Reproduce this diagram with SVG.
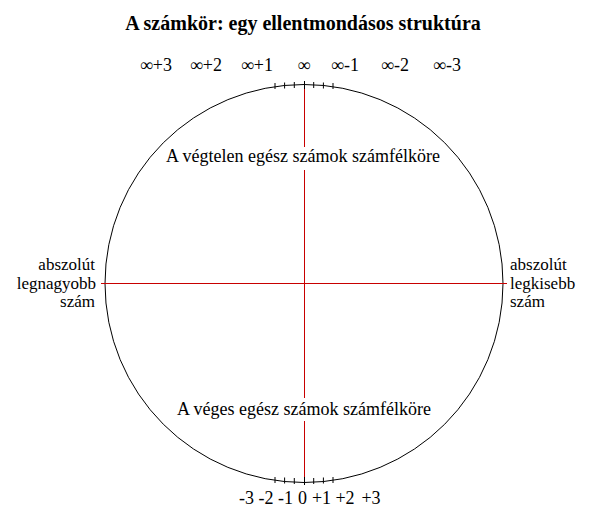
<svg xmlns="http://www.w3.org/2000/svg" width="600" height="529" viewBox="0 0 600 529">
<style>
text{font-family:"Liberation Serif","Times New Roman",serif;font-size:18px;fill:#000}
.title{font-size:20px;font-weight:bold}
.side{font-size:17px}
.mid{text-anchor:middle}
.end{text-anchor:end}
.axis{stroke:#c80000;stroke-width:1;fill:none}
.tick{stroke:#000;stroke-width:1}
.mask{fill:#fff}
</style>
<rect width="600" height="529" fill="#fff"/>
<text class="title mid" x="303" y="30">A számkör: egy ellentmondásos struktúra</text>
<g id="circle">
<circle cx="304" cy="283.5" r="199" fill="none" stroke="#000" stroke-width="1"/>
</g>
<g id="connectors">
<line class="axis" x1="304.5" y1="89" x2="304.5" y2="480"/>
<line class="axis" x1="101" y1="283.5" x2="507" y2="283.5"/>
</g>
<g id="ticks-top">
<line class="tick" x1="275" y1="83" x2="275" y2="89"/>
<line class="tick" x1="284.6" y1="82.5" x2="284.6" y2="88.5"/>
<line class="tick" x1="294.3" y1="82" x2="294.3" y2="88"/>
<line class="tick" x1="304.5" y1="81" x2="304.5" y2="89"/>
<line class="tick" x1="313.7" y1="82" x2="313.7" y2="88"/>
<line class="tick" x1="323.4" y1="82.5" x2="323.4" y2="88.5"/>
<line class="tick" x1="333" y1="83" x2="333" y2="89"/>
</g>
<g id="ticks-bottom">
<line class="tick" x1="275" y1="477" x2="275" y2="483"/>
<line class="tick" x1="284.6" y1="477.5" x2="284.6" y2="483.5"/>
<line class="tick" x1="294.3" y1="478" x2="294.3" y2="484"/>
<line class="tick" x1="304.5" y1="477" x2="304.5" y2="485"/>
<line class="tick" x1="313.7" y1="478" x2="313.7" y2="484"/>
<line class="tick" x1="323.4" y1="477.5" x2="323.4" y2="483.5"/>
<line class="tick" x1="333" y1="477" x2="333" y2="483"/>
</g>
<g id="labels-top">
<text class="mid" x="156" y="71">∞+3</text>
<text class="mid" x="206" y="71">∞+2</text>
<text class="mid" x="257" y="71">∞+1</text>
<text class="mid" x="304" y="71">∞</text>
<text class="mid" x="345" y="71">∞-1</text>
<text class="mid" x="395" y="71">∞-2</text>
<text class="mid" x="447" y="71">∞-3</text>
</g>
<g id="labels-bottom">
<text class="mid" x="246.5" y="504">-3</text>
<text class="mid" x="266" y="504">-2</text>
<text class="mid" x="285.5" y="504">-1</text>
<text class="mid" x="302.5" y="504">0</text>
<text class="mid" x="321.5" y="504">+1</text>
<text class="mid" x="345" y="504">+2</text>
<text class="mid" x="371" y="504">+3</text>
</g>
<g id="node-infinite">
<rect class="mask" x="160" y="147" width="287" height="23"/>
<text class="mid" x="303" y="162">A végtelen egész számok számfélköre</text>
</g>
<g id="node-finite">
<rect class="mask" x="170" y="398" width="268" height="23"/>
<text class="mid" x="304" y="415">A véges egész számok számfélköre</text>
</g>
<g id="node-largest">
<text class="side end" x="95" y="270">abszolút</text>
<text class="side end" x="96" y="288.5">legnagyobb</text>
<text class="side end" x="95" y="307">szám</text>
</g>
<g id="node-smallest">
<text class="side" x="510" y="270">abszolút</text>
<text class="side" x="510" y="288.5">legkisebb</text>
<text class="side" x="510" y="307">szám</text>
</g>
</svg>
